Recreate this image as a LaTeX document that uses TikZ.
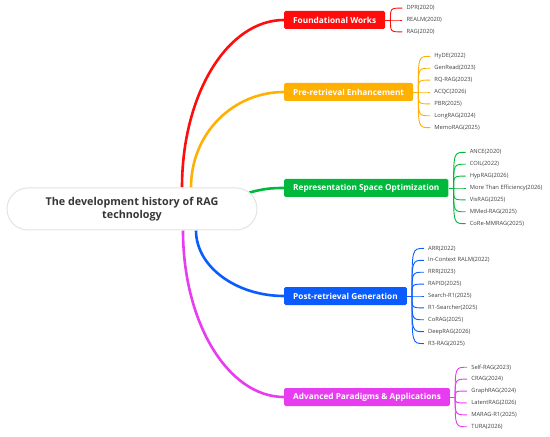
\documentclass[tikz,border=0pt]{standalone}
\usepackage{fontspec}
\setmainfont{Open Sans}
\usetikzlibrary{calc}
\pgfdeclarelayer{background}
\pgfsetlayers{background,main}
\definecolor{catred}{HTML}{FF0D0D}
\definecolor{catorange}{HTML}{FFB000}
\definecolor{catgreen}{HTML}{00B83C}
\definecolor{catblue}{HTML}{0A5CFF}
\definecolor{catpink}{HTML}{E83CF0}
\definecolor{leafgray}{HTML}{404040}
\definecolor{rootline}{HTML}{E3E3E3}
\tikzstyle{root}=[rectangle,rounded corners=21bp,draw=rootline,line width=1bp,fill=white,minimum width=250bp,minimum height=42bp,align=center,font=\fontsize{10.8}{13.5}\selectfont\bfseries,text=leafgray!85!black]
\tikzstyle{category}=[rectangle,rounded corners=1.5bp,minimum height=18bp,inner xsep=9bp,text=white,font=\fontsize{8.3}{9}\selectfont\bfseries,anchor=west]
\tikzstyle{leaf}=[anchor=west,inner xsep=4bp,inner ysep=1bp,text=leafgray,font=\fontsize{5.8}{6.5}\selectfont]
\tikzstyle{branch}=[line width=2.6bp]
\tikzstyle{twig}=[line width=0.9bp]

\begin{document}
\begin{tikzpicture}[x=1bp,y=-1bp]
    \useasboundingbox (0,0) rectangle (550,437);
    % The root of the map
    \node[root] (root) at (132,209) {The development history of RAG\\technology};

    % Then the five categories
    \foreach \name/\clr/\y/\txt in {fw/catred/20/Foundational Works, pre/catorange/92/Pre-retrieval Enhancement, rep/catgreen/188/Representation Space Optimization, post/catblue/296/Post-retrieval Generation, adv/catpink/397/Advanced Paradigms \& Applications}
        \node[category,fill=\clr] (\name) at (284,\y) {\txt};

    % Connect root with categories
    \begin{pgfonlayer}{background}
        \draw[branch,catred] ([xshift=50bp]root.north) .. controls +(0,-94) and +(-56,0) .. (fw.west);
        \draw[branch,catorange] ([xshift=59bp]root.north) .. controls +(0,-54) and +(-51,0) .. (pre.west);
        \draw[branch,catgreen] ([xshift=-8bp,yshift=-5bp]root.north east) .. controls +(15,-4) and +(-12,0) .. (rep.west);
        \draw[branch,catblue] ([xshift=64bp]root.south) .. controls +(0,36) and +(-48,0) .. (post.west);
        \draw[branch,catpink] ([xshift=51bp]root.south) .. controls +(0,92) and +(-56,0) .. (adv.west);
    \end{pgfonlayer}

    % Leaves of each category
    \foreach \name/\clr/\n/\list in {fw/catred/3/{DPR(2020),REALM(2020),RAG(2020)},
        pre/catorange/7/{HyDE(2022),GenRead(2023),RQ-RAG(2023),ACQC(2026),PBR(2025),LongRAG(2024),MemoRAG(2025)},
        rep/catgreen/7/{ANCE(2020),COIL(2022),HypRAG(2026),More Than Efficiency(2026),VisRAG(2025),MMed-RAG(2025),CoRe-MMRAG(2025)},
        post/catblue/9/{ARR(2022),In-Context RALM(2022),RRR(2023),RAPID(2025),Search-R1(2025),R1-Searcher(2025),CoRAG(2025),DeepRAG(2026),R3-RAG(2025)},
        adv/catpink/6/{Self-RAG(2023),CRAG(2024),GraphRAG(2024),LatentRAG(2026),MARAG-R1(2025),TURA(2026)}}
    {
        \draw[twig,\clr] (\name.east) -- ++(5,0) coordinate (\name-j);
        \foreach \txt [count=\i] in \list {
            \node[leaf] (\name-\i) at ($(\name.east)+(17,{(\i-(\n+1)/2)*11.9})$) {\txt};
            \draw[twig,\clr] (\name-j) .. controls (\name-j |- \name-\i.west) .. (\name-\i.west);
        }
    }
\end{tikzpicture}
\end{document}
